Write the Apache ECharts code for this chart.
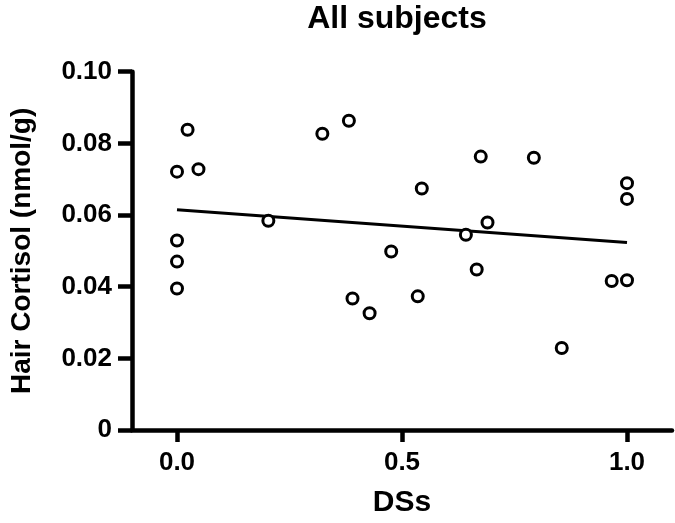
<!DOCTYPE html>
<html>
<head>
<meta charset="utf-8">
<script src="https://cdn.jsdelivr.net/npm/echarts@6/dist/echarts.min.js"></script>
<style>
  html, body { margin: 0; padding: 0; background: #fff; }
  #chart { width: 675px; height: 523px; }
</style>
</head>
<body>
<div id="chart"></div>
<script>
// Data
var dssValues = [0.0235, 0, 0.0477, 0, 0, 0, 0.203, 0.323, 0.382, 0.390, 0.428, 0.476,
                 0.535, 0.544, 0.642, 0.666, 0.675, 0.690, 0.793, 0.855, 0.966, 1.0, 1.0, 1.0];
var cortisolValues = [0.0838, 0.0721, 0.0728, 0.0529, 0.0470, 0.0395, 0.0584, 0.0827, 0.0863, 0.0367, 0.0326, 0.0498,
                      0.0373, 0.0674, 0.0545, 0.0448, 0.0763, 0.0579, 0.0760, 0.0229, 0.0416, 0.0418, 0.0645, 0.0689];
var fitX = [0, 1];
var fitY = [0.0615, 0.0523];
var xTickValues = [0, 0.5, 1.0];

var FONT = 'Arial, "Liberation Sans", Helvetica, sans-serif';

var scatterData = dssValues.map(function (x, i) { return [x, cortisolValues[i]]; });
var fitData = fitX.map(function (x, i) { return [x, fitY[i]]; });

var chart = echarts.init(document.getElementById('chart'), null, { renderer: 'canvas' });
chart.setOption({
  animation: false,
  backgroundColor: '#fff',
  title: {
    text: 'All subjects',
    left: 392, top: -2,
    textAlign: 'center',
    textStyle: { fontFamily: FONT, fontWeight: 'bold', fontSize: 32, color: '#000' }
  },
  grid: { left: 127, right: 3, top: 71.7, bottom: 90.3, containLabel: false },
  xAxis: {
    type: 'value',
    min: -0.1, max: 1.1,
    name: 'DSs',
    nameLocation: 'middle',
    nameGap: 58,
    nameTextStyle: { fontFamily: FONT, fontWeight: 'bold', fontSize: 30, color: '#000' },
    axisLine: { show: true, onZero: false, lineStyle: { color: '#000', width: 4.5 } },
    axisTick: { show: true, length: 12, customValues: xTickValues, lineStyle: { color: '#000', width: 4.5 } },
    axisLabel: {
      customValues: xTickValues, margin: 20,
      fontFamily: FONT, fontWeight: 'bold', fontSize: 26, color: '#000',
      formatter: function (v) { return v.toFixed(1); }
    },
    splitLine: { show: false }
  },
  yAxis: {
    type: 'value',
    min: 0, max: 0.1, interval: 0.02,
    name: 'Hair Cortisol (nmol/g)',
    nameLocation: 'middle',
    nameGap: 96,
    nameRotate: 90,
    nameTextStyle: { fontFamily: FONT, fontWeight: 'bold', fontSize: 28, color: '#000' },
    axisLine: { show: true, onZero: false, lineStyle: { color: '#000', width: 4.5 } },
    axisTick: { show: true, length: 14, lineStyle: { color: '#000', width: 4.5 } },
    axisLabel: {
      margin: 20,
      fontFamily: FONT, fontWeight: 'bold', fontSize: 26, color: '#000',
      formatter: function (v) { return v === 0 ? '0' : v.toFixed(2); }
    },
    splitLine: { show: false }
  },
  series: [
    {
      type: 'line',
      data: fitData,
      symbol: 'none',
      lineStyle: { color: '#000', width: 3 },
      z: 2
    },
    {
      type: 'scatter',
      data: scatterData,
      symbol: 'circle',
      symbolSize: 11,
      itemStyle: { color: '#fff', borderColor: '#000', borderWidth: 3, opacity: 1 },
      z: 3
    }
  ]
});
</script>
</body>
</html>
